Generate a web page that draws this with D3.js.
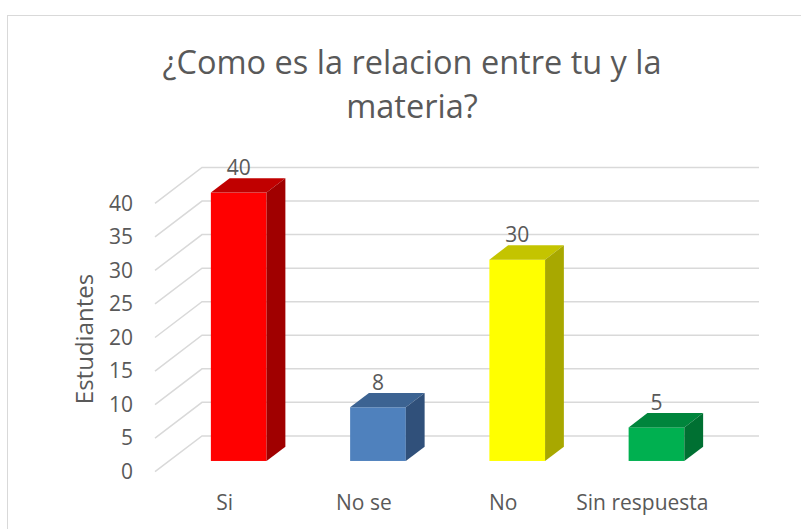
<!DOCTYPE html>
<html>
<head>
<meta charset="utf-8">
<script src="https://cdn.jsdelivr.net/npm/d3@7"></script>
<style>
  html, body { margin: 0; padding: 0; background: #ffffff; }
  svg { display: block; }
  text { font-family: "Open Sans", "Noto Sans", sans-serif; fill: #595959; }
</style>
</head>
<body>
<svg id="chart" width="801" height="529"></svg>
<script>
// ---- data ----
const titleLines = ["¿Como es la relacion entre tu y la", "materia?"];
const yAxisTitle = "Estudiantes";
const categories = ["Si", "No se", "No", "Sin respuesta"];
const values = [40, 8, 30, 5];
const yTicks = [0, 5, 10, 15, 20, 25, 30, 35, 40];
const frontColors = ["#FF0000", "#4F81BD", "#FFFF00", "#00B050"];
const topColors = ["#C00000", "#3C6392", "#C4C400", "#00853C"];
const sideColors = ["#A00000", "#30507A", "#A8A800", "#007032"];

// ---- layout ----
const svg = d3.select("#chart");
const DX = 47, DY = 35.8;          // full floor depth offset (oblique projection)
const d0 = 0.3, d1 = 0.7;          // bar depth extent (fraction of floor depth)
const plotLeft = 155, plotRight = 712;

const x = d3.scaleBand().domain(categories).range([plotLeft, plotRight])
  .paddingInner(0.6).paddingOuter(0.3);
const y = d3.scaleLinear().domain([0, 40]).range([471.7, 203.3]);

// chart border
svg.append("rect").attr("x", 7.5).attr("y", 15.5).attr("width", 820).attr("height", 540)
  .attr("fill", "#fff").attr("stroke", "#d9d9d9").attr("stroke-width", 1);

// title
svg.append("g").selectAll("text").data(titleLines).join("text")
  .attr("x", 412).attr("y", (d, i) => 74 + i * 44)
  .attr("text-anchor", "middle").style("font-size", "32.5px").text(d => d);

// gridlines: side wall diagonals + back wall horizontals
const grid = svg.append("g").attr("stroke", "#d9d9d9").attr("stroke-width", 1.5).attr("fill", "none");
grid.selectAll("path").data(yTicks).join("path")
  .attr("d", v => `M${plotLeft},${y(v)} L${plotLeft + DX},${y(v) - DY} L${plotRight + DX},${y(v) - DY}`);

// y axis (tick labels on front plane)
const yAxis = svg.append("g").attr("transform", `translate(${plotLeft - 22},0)`)
  .call(d3.axisLeft(y).tickValues(yTicks).tickSize(0).tickPadding(0));
yAxis.select(".domain").remove();
yAxis.selectAll("text").style("font-size", "21px").attr("fill", "#595959")
  .style("font-family", '"Open Sans", sans-serif');

// y axis title
svg.append("text").attr("transform", "translate(93,339) rotate(-90)")
  .attr("text-anchor", "middle").style("font-size", "24px").text(yAxisTitle);

// x axis (category labels)
const xAxis = svg.append("g").attr("transform", `translate(0,${y(0)})`)
  .call(d3.axisBottom(x).tickSize(0).tickPadding(0));
xAxis.select(".domain").remove();
xAxis.selectAll("text").attr("dy", null).attr("y", 38).style("font-size", "21px")
  .attr("fill", "#595959").style("font-family", '"Open Sans", sans-serif');

// bars
const data = categories.map((c, i) => ({ c, v: values[i], i }));
const bw = x.bandwidth();
const ox = d0 * DX, oy = d0 * DY;
const ddx = (d1 - d0) * DX, ddy = (d1 - d0) * DY;

const bars = svg.append("g").selectAll("g").data(data).join("g");
bars.append("rect")
  .attr("x", d => x(d.c) + ox).attr("y", d => y(d.v) - oy)
  .attr("width", bw).attr("height", d => y(0) - y(d.v))
  .attr("fill", d => frontColors[d.i]);
bars.append("path")
  .attr("d", d => {
    const xl = x(d.c) + ox, xr = xl + bw, yt = y(d.v) - oy;
    return `M${xl},${yt} L${xr},${yt} L${xr + ddx},${yt - ddy} L${xl + ddx},${yt - ddy} Z`;
  })
  .attr("fill", d => topColors[d.i]);
bars.append("path")
  .attr("d", d => {
    const xr = x(d.c) + ox + bw, yt = y(d.v) - oy, yb = y(0) - oy;
    return `M${xr},${yt} L${xr + ddx},${yt - ddy} L${xr + ddx},${yb - ddy} L${xr},${yb} Z`;
  })
  .attr("fill", d => sideColors[d.i]);

// data labels
bars.append("text")
  .attr("x", d => x(d.c) + ox + bw / 2)
  .attr("y", d => y(d.v) - oy - ddy - 3)
  .attr("text-anchor", "middle").style("font-size", "21px")
  .text(d => d.v);
</script>
</body>
</html>
